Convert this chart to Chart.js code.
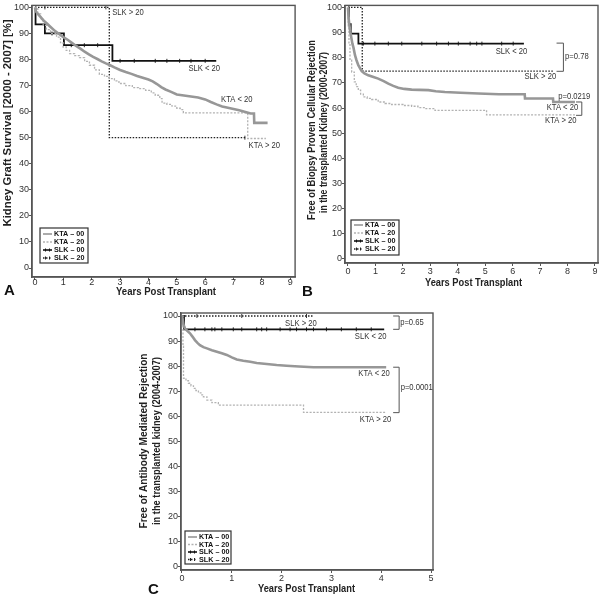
<!DOCTYPE html>
<html>
<head>
<meta charset="utf-8">
<script src="https://cdn.jsdelivr.net/npm/chart.js@4"></script>
<style>
  body { margin: 0; background: #fff; width: 603px; height: 599px; position: relative; overflow: hidden; }
  canvas { position: absolute; }
</style>
</head>
<body>
<canvas id="chartA" width="300" height="300" style="left:0;top:0"></canvas>
<canvas id="chartB" width="303" height="300" style="left:300px;top:0"></canvas>
<canvas id="chartC" width="310" height="299" style="left:130px;top:300px"></canvas>
<script>
// tick labels
const yTicks = [0, 10, 20, 30, 40, 50, 60, 70, 80, 90, 100];
const xTicksLong = [0, 1, 2, 3, 4, 5, 6, 7, 8, 9];
const xTicksShort = [0, 1, 2, 3, 4, 5];
const seriesNames = ['KTA – 00', 'KTA – 20', 'SLK – 00', 'SLK – 20'];

// A: kidney graft survival
const aKta00X = [0, 0.03, 0.1, 0.2, 0.3, 0.42, 0.55, 0.7, 0.85, 1.0, 1.15, 1.3, 1.45, 1.6, 1.75, 1.9, 2.05, 2.2, 2.35, 2.5, 2.65, 2.8, 3.0, 3.2, 3.4, 3.6, 3.8, 4.0, 4.15, 4.3, 4.45, 4.6, 4.8, 5.0, 5.25, 5.5, 5.75, 6.0, 6.2, 6.4, 6.6, 6.8, 7.0, 7.2, 7.45, 7.6, 7.72, 7.73, 8.2];
const aKta00Y = [100, 98.5, 97.5, 96.3, 95, 93.8, 92.5, 91, 89.8, 88.6, 87.6, 86.4, 85.2, 84.2, 83, 82, 81, 80.2, 79.3, 78.5, 77.8, 77, 76, 75.2, 74.5, 73.7, 73, 72.3, 71.6, 70.6, 69.4, 68.5, 67.6, 66.6, 66.2, 65.8, 65.4, 64.7, 63.7, 62.8, 62, 61.5, 61, 60.5, 59.8, 59.3, 59.3, 55.7, 55.7];
const aKta20X = [0, 0.1, 0.2, 0.29, 0.4, 0.55, 0.76, 0.9, 0.99, 1.1, 1.22, 1.4, 1.57, 1.75, 1.92, 2.1, 2.27, 2.45, 2.62, 2.8, 2.96, 3.2, 3.43, 3.65, 3.9, 4.1, 4.24, 4.4, 4.48, 4.65, 4.83, 5.0, 5.12, 5.23, 7.5, 8.14];
const aKta20Y = [100, 97.5, 95.5, 93.1, 91.5, 90, 88.6, 86.5, 84.8, 83.5, 82.3, 81.5, 80.7, 79.3, 77.8, 76, 74.3, 73.5, 72.7, 71.8, 70.8, 70, 69.2, 68.8, 68.2, 67.2, 66.3, 65, 63.3, 62.8, 62.1, 61.3, 60.8, 59.5, 49.7, 49.7];
const aSlk00X = [0, 0.02, 0.35, 1.02, 2.73, 6.39];
const aSlk00Y = [100, 93.5, 90, 85.5, 79.5, 79.5];
const aSlk20X = [0, 2.62, 7.44];
const aSlk20Y = [100, 50, 50];
const aSlk00Cens = [0.6, 1.28, 1.74, 2.21, 3.0, 3.5, 4.24, 4.65, 5.1, 5.5, 6.0];
const aSlk20Cens = [0.35, 2.5, 7.4];

// B: free of biopsy proven cellular rejection
const bKta00X = [0, 0.02, 0.05, 0.08, 0.12, 0.16, 0.2, 0.255, 0.31, 0.376, 0.44, 0.5, 0.6, 0.74, 0.9, 1.1, 1.3, 1.47, 1.65, 1.83, 2.05, 2.32, 2.6, 2.93, 3.2, 3.53, 4.1, 4.75, 5.5, 6.44, 6.45, 7.47, 7.48, 8.27];
const bKta00Y = [100, 96, 93, 90.5, 88, 85.6, 84, 81, 79, 77, 75.8, 74.7, 73.8, 73, 72.4, 71.7, 70.7, 69.7, 68.8, 68.1, 67.6, 67.3, 67.2, 67.1, 66.7, 66.4, 66.1, 65.8, 65.5, 65.5, 63.8, 63.8, 62.4, 62.4];
const bKta20X = [0, 0.01, 0.036, 0.073, 0.134, 0.23, 0.3, 0.376, 0.46, 0.56, 0.7, 0.86, 1.1, 1.35, 1.59, 2.0, 2.32, 2.55, 2.81, 3.17, 5.05, 8.27];
const bKta20Y = [100, 92, 85.6, 79, 74.3, 70.4, 68.5, 67.1, 65.5, 64.4, 63.8, 63.4, 62.4, 61.8, 61.4, 61.0, 60.7, 60.2, 59.8, 59.1, 57.3, 57.3];
const bSlk00X = [0, 0.03, 0.1, 0.38, 6.41];
const bSlk00Y = [100, 93.3, 89.6, 85.6, 85.6];
const bSlk20X = [0, 0.52, 7.48];
const bSlk20Y = [100, 74.7, 74.7];
const bSlk00Cens = [0.56, 0.98, 1.47, 1.96, 2.69, 3.23, 3.66, 4.02, 4.45, 4.69, 4.88, 5.6, 6.02];
const bSlk20Cens = [];

// C: free of antibody mediated rejection
const cKta00X = [0, 0.03, 0.06, 0.1, 0.16, 0.21, 0.26, 0.31, 0.36, 0.43, 0.5, 0.6, 0.7, 0.8, 0.9, 1.0, 1.1, 1.23, 1.37, 1.5, 1.7, 1.9, 2.1, 2.35, 2.64, 4.1];
const cKta00Y = [100, 96.5, 95.1, 94.2, 93.1, 91.8, 90.4, 89.3, 88.4, 87.6, 87.1, 86.4, 85.8, 85.2, 84.5, 83.5, 82.7, 82.2, 81.8, 81.3, 80.9, 80.5, 80.2, 79.9, 79.6, 79.6];
const cKta20X = [0, 0.02, 0.03, 0.08, 0.13, 0.18, 0.23, 0.28, 0.33, 0.38, 0.43, 0.5, 0.6, 0.73, 2.44, 4.1];
const cKta20Y = [100, 88, 75.2, 74.2, 73.2, 72.2, 71.2, 70.3, 69.4, 68.6, 67.8, 66.5, 65.5, 64.5, 61.6, 61.6];
const cSlk00X = [0, 0.04, 4.06];
const cSlk00Y = [100, 94.7, 94.7];
const cSlk20X = [0, 2.64];
const cSlk20Y = [100, 100];
const cSlk00Cens = [0.26, 0.46, 0.6, 0.66, 0.8, 1.03, 1.2, 1.5, 1.6, 1.7, 1.97, 2.17, 2.3, 2.5, 2.64, 2.9, 3.2, 3.5, 3.8];
const cSlk20Cens = [0.3, 1.2, 2.5];

const FONT = "'Liberation Sans', Arial, sans-serif";
const styles = [
  { color: '#979797', width: 2.6, dash: [], stepped: false },
  { color: '#b2b2b2', width: 1.3, dash: [2, 1.5], stepped: true },
  { color: '#111111', width: 1.8, dash: [], stepped: true },
  { color: '#222222', width: 1.3, dash: [1.5, 1.5], stepped: true }
];

function kmAt(xs, ys, t) {
  let v = ys[0];
  for (let i = 0; i < xs.length; i++) if (xs[i] <= t) v = ys[i];
  return v;
}

function curve(xs, ys, st) {
  return {
    data: xs.map((x, i) => ({ x: x, y: ys[i] })),
    stepped: st.stepped,
    tension: 0,
    borderColor: st.color,
    borderWidth: st.width,
    borderDash: st.dash,
    pointRadius: 0,
    fill: false
  };
}

function censor(times, xs, ys, color) {
  return {
    data: times.map(t => ({ x: t, y: kmAt(xs, ys, t) })),
    showLine: false,
    pointStyle: 'line',
    rotation: 90,
    pointRadius: 2,
    borderColor: color,
    borderWidth: 0.9
  };
}

// condensed text: scales along the text direction to the wanted length
function fitText(ctx, text, x, y, font, len, rot, color) {
  ctx.save();
  ctx.font = font;
  ctx.fillStyle = color || '#222';
  ctx.textAlign = 'center';
  ctx.textBaseline = 'middle';
  const w = ctx.measureText(text).width;
  ctx.translate(x, y);
  ctx.rotate(rot || 0);
  ctx.scale(len / w, 1);
  ctx.fillText(text, 0, 0);
  ctx.restore();
}

function leftText(ctx, text, x, y, font, sx, color) {
  ctx.save();
  ctx.font = font;
  ctx.fillStyle = color || '#333';
  ctx.textAlign = 'left';
  ctx.textBaseline = 'middle';
  ctx.translate(x, y);
  ctx.scale(sx, 1);
  ctx.fillText(text, 0, 0);
  ctx.restore();
}

function decor(p) {
  return {
    id: 'decor' + p.letter,
    afterDraw(chart) {
      const ctx = chart.ctx;
      const a = chart.chartArea;
      const xs = chart.scales.x, ys = chart.scales.y;
      ctx.save();
      // frame
      ctx.strokeStyle = '#555';
      ctx.lineWidth = 1.4;
      ctx.strokeRect(a.left, a.top, a.right - a.left, a.bottom - a.top);
      // curve labels
      p.labels.forEach(l => {
        leftText(ctx, l.text, xs.getPixelForValue(l.x), ys.getPixelForValue(l.y), '8.5px ' + FONT, 0.9, '#333');
      });
      // p-value brackets
      ctx.strokeStyle = '#555';
      ctx.lineWidth = 1;
      p.brackets.forEach(b => {
        const bx = xs.getPixelForValue(b.x), ax = xs.getPixelForValue(b.armX);
        const y1 = ys.getPixelForValue(b.y1), y2 = ys.getPixelForValue(b.y2);
        ctx.beginPath();
        ctx.moveTo(ax, y1); ctx.lineTo(bx, y1); ctx.lineTo(bx, y2); ctx.lineTo(ax, y2);
        ctx.stroke();
      });
      // legend
      const lg = p.legend;
      ctx.strokeStyle = '#333';
      ctx.lineWidth = 1.2;
      ctx.strokeRect(lg.x, lg.y, lg.w, lg.h);
      seriesNames.forEach((name, i) => {
        const st = styles[i];
        const ry = lg.y + lg.first + i * lg.step;
        ctx.save();
        ctx.strokeStyle = st.color;
        ctx.lineWidth = Math.min(st.width, 1.6);
        ctx.setLineDash(st.dash);
        ctx.beginPath();
        ctx.moveTo(lg.x + 3, ry); ctx.lineTo(lg.x + 12, ry);
        ctx.stroke();
        if (i >= 2) {
          ctx.setLineDash([]);
          ctx.lineWidth = 1;
          ctx.beginPath();
          [lg.x + 5.5, lg.x + 9.5].forEach(tx => { ctx.moveTo(tx, ry - 1.5); ctx.lineTo(tx, ry + 1.5); });
          ctx.stroke();
        }
        ctx.restore();
        leftText(ctx, name, lg.x + 14, ry, 'bold 8px ' + FONT, 0.9, '#111');
      });
      // axis titles and panel letter
      fitText(ctx, 'Years Post Transplant', p.xTitle.x, p.xTitle.y, 'bold 11.5px ' + FONT, p.xTitle.len, 0, '#222');
      p.yTitle.forEach(t => fitText(ctx, t.text, t.x, t.y, 'bold 11.5px ' + FONT, t.len, -Math.PI / 2, '#222'));
      ctx.font = 'bold 15px ' + FONT;
      ctx.fillStyle = '#111';
      ctx.textAlign = 'left';
      ctx.textBaseline = 'middle';
      ctx.fillText(p.letter, p.letterPos.x, p.letterPos.y);
      ctx.restore();
    }
  };
}

function makeChart(id, p) {
  const sets = [
    curve(p.series[0][0], p.series[0][1], styles[0]),
    curve(p.series[1][0], p.series[1][1], styles[1]),
    curve(p.series[2][0], p.series[2][1], styles[2]),
    curve(p.series[3][0], p.series[3][1], styles[3]),
    censor(p.cens[0], p.series[2][0], p.series[2][1], '#111'),
    censor(p.cens[1], p.series[3][0], p.series[3][1], '#222')
  ];
  return new Chart(document.getElementById(id), {
    type: 'line',
    data: { datasets: sets },
    options: {
      responsive: false,
      animation: false,
      layout: { padding: p.pad },
      plugins: { legend: { display: false }, tooltip: { enabled: false } },
      scales: {
        x: {
          type: 'linear',
          min: p.xMin, max: p.xMax,
          afterFit(s) { s.height = p.xH; },
          afterBuildTicks(s) { s.ticks = p.xTicks.map(v => ({ value: v })); },
          grid: { drawOnChartArea: false, tickLength: 3, color: '#555' },
          border: { color: '#555', width: 1.4 },
          ticks: { font: { size: 9, family: FONT }, color: '#333', padding: p.xPad, maxRotation: 0, autoSkip: false }
        },
        y: {
          min: p.yMin, max: p.yMax,
          afterFit(s) { s.width = p.yW; },
          afterBuildTicks(s) { s.ticks = yTicks.map(v => ({ value: v })); },
          grid: { drawOnChartArea: false, tickLength: 3, color: '#555' },
          border: { color: '#555', width: 1.4 },
          ticks: { font: { size: 9, family: FONT }, color: '#333', padding: 0, autoSkip: false }
        }
      }
    },
    plugins: [decor(p)]
  });
}

makeChart('chartA', {
  letter: 'A', letterPos: { x: 4, y: 291 },
  pad: { left: 0, top: 5, right: 2, bottom: 0 }, yW: 32, xH: 23, xPad: -3,
  xMin: -0.105, xMax: 9.17, yMin: -3.45, yMax: 100.77, xTicks: xTicksLong,
  series: [[aKta00X, aKta00Y], [aKta20X, aKta20Y], [aSlk00X, aSlk00Y], [aSlk20X, aSlk20Y]],
  cens: [aSlk00Cens, aSlk20Cens],
  labels: [
    { text: 'SLK > 20', x: 2.72, y: 98.1 },
    { text: 'SLK < 20', x: 5.41, y: 76.6 },
    { text: 'KTA < 20', x: 6.56, y: 64.6 },
    { text: 'KTA > 20', x: 7.53, y: 46.9 }
  ],
  brackets: [],
  legend: { x: 40, y: 228, w: 48, h: 35, first: 6, step: 8 },
  xTitle: { x: 166, y: 292, len: 100 },
  yTitle: [{ text: 'Kidney Graft Survival [2000 - 2007] [%]', x: 8.3, y: 123, len: 207 }]
});

makeChart('chartB', {
  letter: 'B', letterPos: { x: 2, y: 292 },
  pad: { left: 0, top: 5, right: 5, bottom: 0 }, yW: 45, xH: 37, xPad: 0,
  xMin: -0.109, xMax: 9.11, yMin: -1.59, yMax: 100.79, xTicks: xTicksLong,
  series: [[bKta00X, bKta00Y], [bKta20X, bKta20Y], [bSlk00X, bSlk00Y], [bSlk20X, bSlk20Y]],
  cens: [bSlk00Cens, bSlk20Cens],
  labels: [
    { text: 'SLK < 20', x: 5.38, y: 82.3 },
    { text: 'p=0.78', x: 7.91, y: 80.3 },
    { text: 'SLK > 20', x: 6.43, y: 72.6 },
    { text: 'p=0.0219', x: 7.66, y: 64.4 },
    { text: 'KTA < 20', x: 7.24, y: 60.2 },
    { text: 'KTA > 20', x: 7.18, y: 54.9 }
  ],
  brackets: [
    { x: 7.85, armX: 7.6, y1: 85.8, y2: 74.6 },
    { x: 8.52, armX: 8.31, y1: 62.4, y2: 57.1 }
  ],
  legend: { x: 51, y: 220, w: 48, h: 35, first: 5, step: 8 },
  xTitle: { x: 173.5, y: 283, len: 97 },
  yTitle: [
    { text: 'Free of Biopsy Proven Cellular Rejection', x: 11.7, y: 130, len: 180 },
    { text: 'in the transplanted Kidney (2000-2007)', x: 24, y: 132.5, len: 161 }
  ]
});

makeChart('chartC', {
  letter: 'C', letterPos: { x: 18, y: 290 },
  pad: { left: 0, top: 13, right: 7, bottom: 0 }, yW: 51, xH: 29, xPad: 0,
  xMin: -0.02, xMax: 5.04, yMin: -1.2, yMax: 101.2, xTicks: xTicksShort,
  series: [[cKta00X, cKta00Y], [cKta20X, cKta20Y], [cSlk00X, cSlk00Y], [cSlk20X, cSlk20Y]],
  cens: [cSlk00Cens, cSlk20Cens],
  labels: [
    { text: 'SLK > 20', x: 2.07, y: 97.1 },
    { text: 'SLK < 20', x: 3.47, y: 91.8 },
    { text: 'p=0.65', x: 4.38, y: 97.3 },
    { text: 'KTA < 20', x: 3.54, y: 77.2 },
    { text: 'p=0.0001', x: 4.39, y: 71.4 },
    { text: 'KTA > 20', x: 3.57, y: 58.8 }
  ],
  brackets: [
    { x: 4.36, armX: 4.24, y1: 100, y2: 94.7 },
    { x: 4.36, armX: 4.24, y1: 79.6, y2: 61.5 }
  ],
  legend: { x: 55, y: 231, w: 46, h: 33, first: 6, step: 7.5 },
  xTitle: { x: 176.5, y: 289, len: 97 },
  yTitle: [
    { text: 'Free of Antibody Mediated Rejection', x: 14, y: 141, len: 175 },
    { text: 'in the transplanted kidney (2004-2007)', x: 27, y: 141, len: 168 }
  ]
});
</script>
</body>
</html>
